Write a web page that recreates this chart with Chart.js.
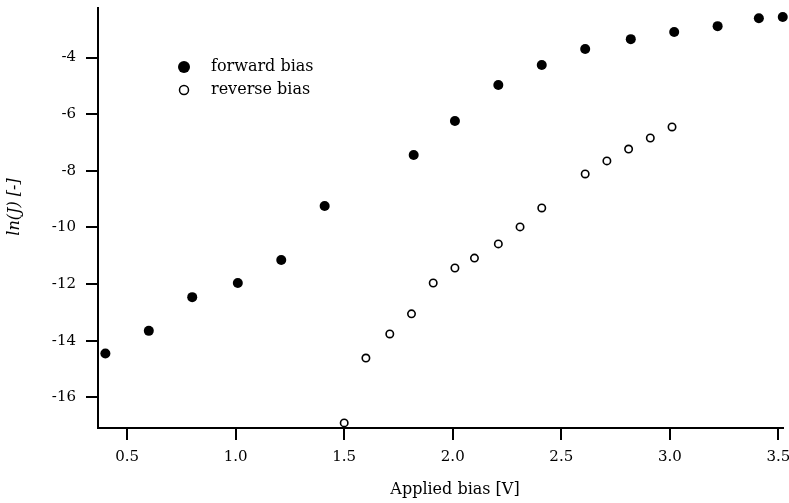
<!DOCTYPE html>
<html>
<head>
<meta charset="utf-8">
<script src="https://cdn.jsdelivr.net/npm/chart.js@4"></script>
<style>
  body { margin: 0; background: #fff; }
  #wrap { width: 789px; height: 503px; position: relative; }
</style>
</head>
<body>
<div id="wrap"><canvas id="plot"></canvas></div>
<script>
// values
forwardBias = [0.4, 0.6, 0.8, 1.01, 1.21, 1.41, 1.82, 2.01, 2.21, 2.41, 2.61, 2.82, 3.02, 3.22, 3.41, 3.52]
forwardLnJ = [-14.45, -13.65, -12.46, -11.96, -11.15, -9.24, -7.44, -6.24, -4.97, -4.26, -3.70, -3.35, -3.10, -2.89, -2.61, -2.57]
reverseBias = [1.5, 1.6, 1.71, 1.81, 1.91, 2.01, 2.1, 2.21, 2.31, 2.41, 2.61, 2.71, 2.81, 2.91, 3.01]
reverseLnJ = [-16.9, -14.61, -13.76, -13.05, -11.96, -11.43, -11.08, -10.58, -9.98, -9.31, -8.11, -7.65, -7.23, -6.84, -6.45]
xTicks = [0.5, 1.0, 1.5, 2.0, 2.5, 3.0, 3.5]
yTicks = [-16, -14, -12, -10, -8, -6, -4]
seriesNames = ["forward bias", "reverse bias"]
xTitle = "Applied bias [V]"
yTitle = "ln(J) [-]"

font = "DejaVu Serif"

toPoints = (xs, ys) => xs.map((x, i) => ({x: x, y: ys[i]}))

// legend in the upper left of the plot, and the two axis titles
textPlugin = {
  id: "texts",
  afterDraw: (chart) => {
    ctx = chart.ctx
    ctx.save()
    chart.data.datasets.forEach((ds, i) => {
      let cy = 67 + i * 23
      ctx.beginPath()
      ctx.arc(184, cy, i == 0 ? 6 : 4.5, 0, Math.PI * 2)
      ctx.fillStyle = ds.pointBackgroundColor
      ctx.fill()
      if (i == 1) {
        ctx.lineWidth = 1.5
        ctx.strokeStyle = ds.pointBorderColor
        ctx.stroke()
      }
      ctx.fillStyle = "#000"
      ctx.font = "16px '" + font + "'"
      ctx.textBaseline = "middle"
      ctx.textAlign = "left"
      ctx.fillText(ds.label, 211, cy)
    })
    ctx.font = "16px '" + font + "'"
    ctx.textAlign = "center"
    ctx.fillText(xTitle, 455, 490)
    ctx.translate(15, 207)
    ctx.rotate(-Math.PI / 2)
    ctx.font = "italic 16px '" + font + "'"
    ctx.fillText(yTitle, 0, 0)
    ctx.restore()
  }
}

chart = new Chart(document.getElementById("plot"), {
  type: "scatter",
  data: {
    datasets: [
      {
        label: seriesNames[0],
        data: toPoints(forwardBias, forwardLnJ),
        pointRadius: 5,
        pointBackgroundColor: "#000",
        pointBorderColor: "#000",
        pointBorderWidth: 0
      },
      {
        label: seriesNames[1],
        data: toPoints(reverseBias, reverseLnJ),
        pointRadius: 3.7,
        pointBackgroundColor: "#fff",
        pointBorderColor: "#000",
        pointBorderWidth: 1.6
      }
    ]
  },
  options: {
    responsive: true,
    maintainAspectRatio: false,
    animation: false,
    clip: false,
    layout: { padding: { top: 8, right: 0, left: 0, bottom: 0 } },
    plugins: {
      legend: { display: false },
      tooltip: { enabled: false }
    },
    scales: {
      x: {
        type: "linear",
        min: 0.366,
        max: 3.523,
        afterBuildTicks: (scale) => { scale.ticks = xTicks.map(v => ({value: v})) },
        afterFit: (scale) => {
          scale.height = 75
          scale.paddingLeft = 0
          scale.paddingRight = 0
        },
        grid: { drawOnChartArea: false, drawTicks: true, tickLength: 12, color: "#000", lineWidth: 2 },
        border: { display: true, color: "#000", width: 2 },
        ticks: {
          color: "#000",
          padding: 8,
          maxRotation: 0,
          font: { family: font, size: 15 },
          callback: (v) => v.toFixed(1)
        }
      },
      y: {
        type: "linear",
        min: -17.08,
        max: -2.25,
        afterBuildTicks: (scale) => { scale.ticks = yTicks.map(v => ({value: v})) },
        afterFit: (scale) => {
          scale.width = 98
          scale.paddingTop = 0
          scale.paddingBottom = 0
        },
        grid: { drawOnChartArea: false, drawTicks: true, tickLength: 12, color: "#000", lineWidth: 2 },
        border: { display: true, color: "#000", width: 2 },
        ticks: {
          color: "#000",
          padding: 10,
          font: { family: font, size: 15 },
          callback: (v) => String(v)
        }
      }
    }
  },
  plugins: [textPlugin]
})
</script>
</body>
</html>
